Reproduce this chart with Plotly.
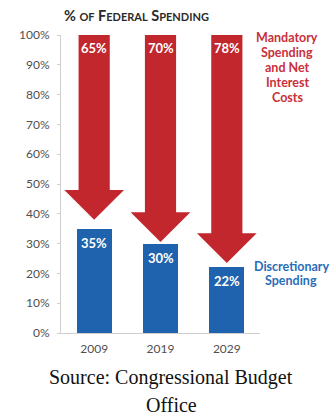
import plotly.graph_objects as go

# Share of federal spending by year
years = ["2009", "2019", "2029"]
mandatory_pct = [65, 70, 78]          # mandatory spending + net interest
discretionary_pct = [35, 30, 22]      # discretionary spending
arrow_tip_pct = [38, 30.5, 23.5]      # where each red arrow's point ends
y_ticks = [0, 10, 20, 30, 40, 50, 60, 70, 80, 90, 100]

mandatory_label = ["Mandatory", "Spending", "and Net", "Interest", "Costs"]
discretionary_label = ["Discretionary", "Spending"]
source_lines = ["Source: Congressional Budget", "Office"]

RED = "#C1272D"
BLUE = "#1F63AE"
GRID = "#CFCFCF"
SANS = "Lato, Open Sans, sans-serif"
TICK_FONT = dict(family=SANS, size=12, color="#505050")

SHAFT_HALF = 0.235
HEAD_HALF = 0.45
HEAD_LEN = 10

fig = go.Figure()

# Red downward arrows for mandatory spending
for i, (tip, val) in enumerate(zip(arrow_tip_pct, mandatory_pct)):
    head_top = tip + HEAD_LEN
    xs = [i - SHAFT_HALF, i + SHAFT_HALF, i + SHAFT_HALF, i + HEAD_HALF, i,
          i - HEAD_HALF, i - SHAFT_HALF, i - SHAFT_HALF]
    ys = [100, 100, head_top, head_top, tip, head_top, head_top, 100]
    fig.add_trace(go.Scatter(
        x=xs, y=ys, mode="lines", fill="toself", fillcolor=RED,
        line=dict(width=0, color=RED), hoverinfo="skip", showlegend=False,
    ))
    fig.add_annotation(
        x=i, y=100, xref="x", yref="y", yanchor="top", yshift=-3,
        text=f"<b>{val}%</b>", showarrow=False,
        font=dict(family=SANS, size=13, color="white"),
    )

# Blue bars for discretionary spending
fig.add_trace(go.Bar(
    x=list(range(len(years))), y=discretionary_pct, width=0.53,
    marker=dict(color=BLUE, line=dict(width=0)),
    hoverinfo="skip", showlegend=False,
))
for i, val in enumerate(discretionary_pct):
    fig.add_annotation(
        x=i, y=val, xref="x", yref="y", yanchor="top", yshift=-4,
        text=f"<b>{val}%</b>", showarrow=False,
        font=dict(family=SANS, size=13, color="white"),
    )

# Chart title in small caps
sm = "<span style='font-size:11px'>"
title = f"<b>% {sm}OF</span> F{sm}EDERAL</span> S{sm}PENDING</span></b>"
fig.add_annotation(
    x=0, y=1.064, xref="paper", yref="paper", xanchor="left", yanchor="middle",
    xshift=1, text=title, showarrow=False,
    font=dict(family=SANS, size=14.5, color="#2B2B2B"),
)

# Series labels at the right, one line each for tight spacing
for k, line in enumerate(mandatory_label):
    fig.add_annotation(
        x=1.136, y=0.990 - k * 0.0497, xref="paper", yref="paper",
        xanchor="center", yanchor="middle", text=f"<b>{line}</b>", showarrow=False,
        font=dict(family=SANS, size=12.5, color="#C8303A"),
    )
for k, line in enumerate(discretionary_label):
    fig.add_annotation(
        x=1.156, y=0.2225 - k * 0.0447, xref="paper", yref="paper",
        xanchor="center", yanchor="middle", text=f"<b>{line}</b>", showarrow=False,
        font=dict(family=SANS, size=12.5, color="#2A6DB8"),
    )

# Source line
for k, line in enumerate(source_lines):
    fig.add_annotation(
        x=0.553, y=-0.151 - k * 0.091, xref="paper", yref="paper",
        xanchor="center", yanchor="middle", text=line, showarrow=False,
        font=dict(family="Liberation Serif, Times New Roman, serif", size=20,
                  color="#111111"),
    )

fig.update_xaxes(
    range=[-0.5, 2.5], tickvals=list(range(len(years))), ticktext=years,
    showgrid=False, zeroline=False, showline=True, linecolor=GRID, linewidth=1,
    ticks="", tickfont=TICK_FONT, ticklabelstandoff=5, fixedrange=True,
)
fig.update_yaxes(
    range=[0, 100], tickvals=y_ticks, ticktext=[f"{v}%" for v in y_ticks],
    showgrid=False, zeroline=False, showline=True, linecolor=GRID, linewidth=1,
    ticks="outside", ticklen=3, tickcolor=GRID, tickfont=TICK_FONT,
    ticklabelstandoff=5, fixedrange=True,
)

fig.update_layout(
    width=336, height=415, autosize=False,
    margin=dict(l=61, r=76, t=35, b=82),
    paper_bgcolor="white", plot_bgcolor="white",
    bargap=0, showlegend=False,
)

fig.write_html("out.html", config={"displayModeBar": False})
